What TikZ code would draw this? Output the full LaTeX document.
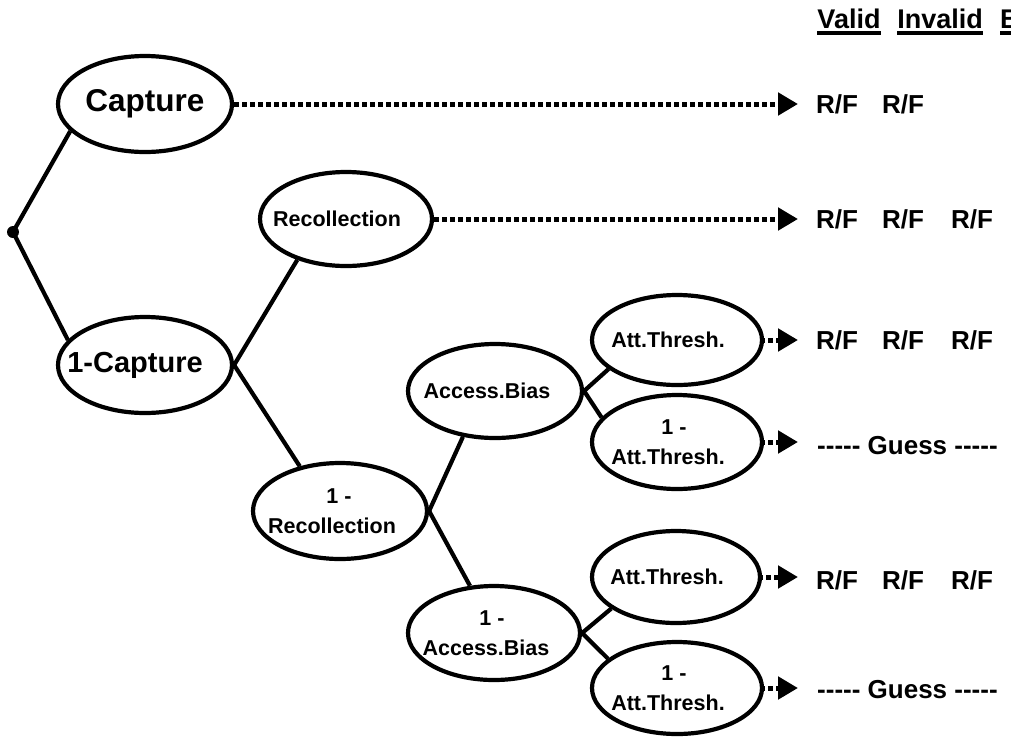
\documentclass[tikz,border=0pt]{standalone}
\usepackage{fontspec}
\setmainfont{Liberation Sans}
\usetikzlibrary{shapes.geometric,arrows.meta}
\newcommand\fivedash{-\kern0pt-\kern0pt-\kern0pt-\kern0pt-}
\newcommand\lsh[2]{\hspace*{-#1pt}#2}
\begin{document}
\begin{tikzpicture}[x=1pt,y=-1pt,
  oval/.style={ellipse,draw,line width=4.2pt,inner sep=0pt,align=center,
    font=\bfseries\fontsize{21.5}{30}\selectfont},
  bigoval/.style={oval,font=\bfseries\fontsize{30}{34}\selectfont},
  link/.style={line width=4.2pt},
  dots/.style={line width=5pt,dash pattern=on 5pt off 3pt,
    -{Triangle[length=20pt,width=22pt]}},
  lbl/.style={font=\bfseries\fontsize{26}{30}\selectfont,inner sep=0pt},
  hdr/.style={font=\bfseries\fontsize{27}{32}\selectfont,inner sep=0pt,anchor=base},
  uline/.style={line width=3.2pt}]
\useasboundingbox (0,0) rectangle (1011,737);

% nodes
\node[circle,fill,inner sep=0pt,minimum size=12pt] (root) at (13,232) {};
\node[bigoval,minimum width=174pt,minimum height=96pt,font=\bfseries\fontsize{31.5}{34}\selectfont] (cap) at (145,104) {Capture};
\node[bigoval,minimum width=174pt,minimum height=96pt,font=\bfseries\fontsize{29}{34}\selectfont] (ncap) at (145,365) {\lsh{20}{1-Capture}};
\node[oval,minimum width=172pt,minimum height=94pt] (rec) at (346,219) {\lsh{18}{Recollection}};
\node[oval,minimum width=174pt,minimum height=96pt] (nrec) at (340,511) {\lsh{2}{1 -}\\\lsh{16}{Recollection}};
\node[oval,minimum width=174pt,minimum height=94pt] (ab) at (495,391) {\lsh{16}{Access.Bias}};
\node[oval,minimum width=172pt,minimum height=94pt] (nab) at (494,633) {\lsh{4}{1 -}\\\lsh{16}{Access.Bias}};
\node[oval,minimum width=170pt,minimum height=90pt] (at1) at (677,340) {\lsh{18}{Att.Thresh.}};
\node[oval,minimum width=170pt,minimum height=94pt] (nat1) at (677,442) {\lsh{6}{1 -}\\\lsh{18}{Att.Thresh.}};
\node[oval,minimum width=168pt,minimum height=92pt] (at2) at (676,577) {\lsh{18}{Att.Thresh.}};
\node[oval,minimum width=170pt,minimum height=92pt] (nat2) at (677,688) {\lsh{6}{1 -}\\\lsh{18}{Att.Thresh.}};

% tree connectors
\draw[link] (root.center) -- (cap.200);
\draw[link] (root.center) -- (ncap.162);
\draw[link] (ncap.east) -- (rec.220);
\draw[link] (ncap.east) -- (nrec.132);
\draw[link] (nrec.east) -- (ab.235);
\draw[link] (nrec.east) -- (nab.117);
\draw[link] (ab.east) -- (at1.203);
\draw[link] (ab.east) -- (nat1.162);
\draw[link] (nab.east) -- (at2.206);
\draw[link] (nab.east) -- (nat2.157);

% arrow ends
\coordinate (e1) at (798,104);
\coordinate (e2) at (798,219);
\coordinate (e3) at (798,340);
\coordinate (e4) at (798,442);
\coordinate (e5) at (798,577);
\coordinate (e6) at (798,688);
\draw[dots] (cap.east) -- (e1);
\draw[dots] (rec.east) -- (e2);
\draw[dots,dash phase=4pt] (at1.east) -- (e3);
\draw[dots,dash phase=4pt] (nat1.east) -- (e4);
\draw[dots,dash phase=4pt] (at2.east) -- (e5);
\draw[dots,dash phase=4pt] (nat2.east) -- (e6);

% outcome labels
\node[lbl] (r1a) at (837,104) {R/F};
\node[lbl] (r1b) at (903,104) {R/F};
\node[lbl] (r2a) at (837,219) {R/F};
\node[lbl] (r2b) at (903,219) {R/F};
\node[lbl] (r2c) at (972,219) {R/F};
\node[lbl] (r3a) at (837,340) {R/F};
\node[lbl] (r3b) at (903,340) {R/F};
\node[lbl] (r3c) at (972,340) {R/F};
\node[lbl,anchor=west] (g1) at (817,446) {\fivedash{} Guess \fivedash};
\node[lbl] (r5a) at (837,580) {R/F};
\node[lbl] (r5b) at (903,580) {R/F};
\node[lbl] (r5c) at (972,580) {R/F};
\node[lbl,anchor=west] (g2) at (817,690) {\fivedash{} Guess \fivedash};

% header
\node[hdr] (valid) at (849,28) {Valid};
\node[hdr] (invalid) at (940,28) {Invalid};
\node[hdr,anchor=base west] (bcol) at (1000,28) {B};
\draw[uline] ([yshift=-5pt]valid.base west) -- ([yshift=-5pt]valid.base east);
\draw[uline] ([yshift=-5pt]invalid.base west) -- ([yshift=-5pt]invalid.base east);
\draw[uline] ([yshift=-5pt]bcol.base west) -- ([yshift=-5pt]bcol.base east);
\end{tikzpicture}
\end{document}
